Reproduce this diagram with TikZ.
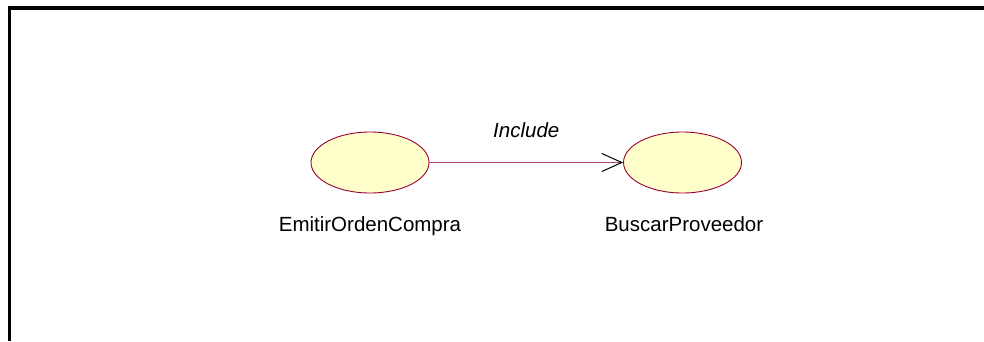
\documentclass[tikz,border=0pt]{standalone}
\usepackage{fontspec}
\setmainfont{Liberation Sans}
\usetikzlibrary{arrows.meta, positioning, shapes.geometric}
\definecolor{ucfill}{HTML}{FFFFCC}
\definecolor{ucline}{HTML}{990033}
\definecolor{depline}{HTML}{B04070}

\begin{document}
\begin{tikzpicture}[
        x=1pt, y=-1pt,
        font=\fontsize{20.5}{24}\selectfont,
        usecase/.style={ellipse, draw=ucline, fill=ucfill, line width=0.9pt, minimum width=118pt, minimum height=61pt, inner sep=0pt},
        uclbl/.style={anchor=base, inner sep=0pt},
        incl/.style={depline, line width=1.1pt, -{Straight Barb[length=20pt, width=18pt, line width=1pt, color=black]}}
    ]
        \useasboundingbox (0,0) rectangle (984,341);
        % --- marco ---
        \draw[line width=3.5pt] (9.5,341) -- (9.5,8) -- (984,8);

        % --- casos de uso ---
        \node[usecase] (emitir) at (370,162.5) {};
        \node[usecase] (buscar) at (682.5,162.5) {};
        \node[uclbl] (emitirlbl) at (370,231) {EmitirOrdenCompra};
        \node[uclbl] (buscarlbl) at (684,231) {BuscarProveedor};

        % --- include ---
        \draw[incl] (emitir.east) -- node[above=21pt, text=black, font=\fontsize{20.5}{24}\selectfont\itshape]{Include} (buscar.west);
    \end{tikzpicture}
\end{document}
